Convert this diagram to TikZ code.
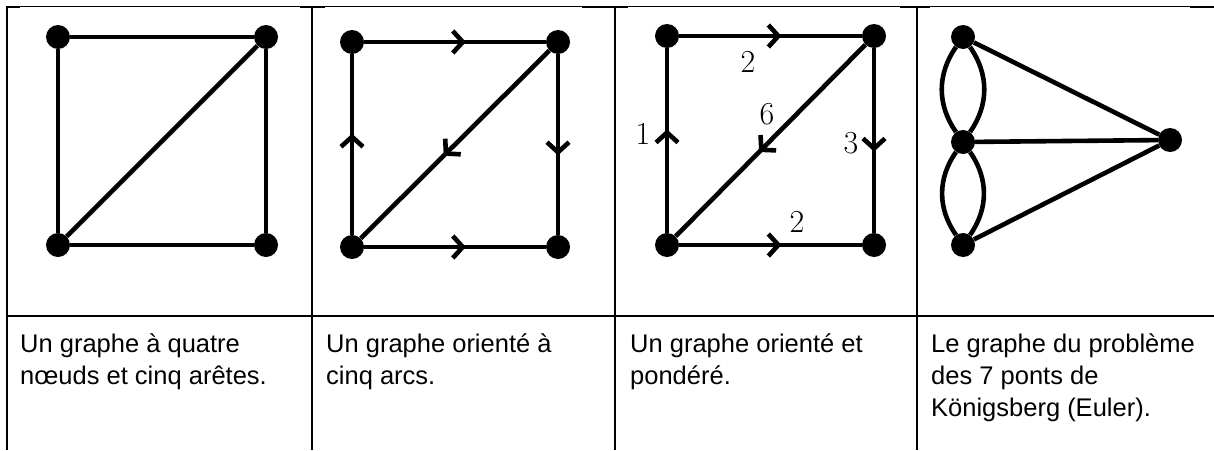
\documentclass[tikz,border=0pt]{standalone}
\usepackage{fontspec}
\newfontfamily\capfont{Liberation Sans}
\usetikzlibrary{arrows.meta,decorations.markings}
\begin{document}
\begin{tikzpicture}[x=1pt,y=-1pt,
  vtx/.style={circle,fill=black,inner sep=0pt,minimum size=24pt},
  gedge/.style={line width=4.6pt},
  darc/.style={gedge,postaction={decorate},decoration={markings,mark=at position 0.56 with {\arrow{Straight Barb[length=10pt,width=22pt]}}}},
  captxt/.style={anchor=base west,inner sep=0pt,font=\capfont\fontsize{25.5}{31}\selectfont},
  wt/.style={inner sep=0pt,font=\fontsize{32}{32}\selectfont},
  tabrule/.style={line width=2pt}]
\useasboundingbox (0,0) rectangle (1214,450);
% table
\draw[line width=1pt] (7,6.5) -- (1214,6.5);
\foreach \a/\b in {7/20,300/325,582/628,900/930,1190/1214}
  \draw[line width=2.2pt] (\a,7) -- (\b,7);
\foreach \x in {7,312,615,917}
  \draw[tabrule] (\x,6) -- (\x,450);
\draw[tabrule] (7,316) -- (1214,316);
% graph 1
\node[vtx] (a1) at (58,37) {};
\node[vtx] (b1) at (266,37) {};
\node[vtx] (c1) at (58,245) {};
\node[vtx] (d1) at (266,245) {};
\draw[gedge] (a1) -- (b1);
\draw[gedge] (a1) -- (c1);
\draw[gedge] (b1) -- (d1);
\draw[gedge] (c1) -- (d1);
\draw[gedge] (b1) -- (c1);
% graph 2
\node[vtx] (a2) at (352,42) {};
\node[vtx] (b2) at (558,42) {};
\node[vtx] (c2) at (352,247) {};
\node[vtx] (d2) at (558,247) {};
\draw[darc] (a2) -- (b2);
\draw[darc] (c2) -- (a2);
\draw[darc] (b2) -- (d2);
\draw[darc] (b2) -- (c2);
\draw[darc] (c2) -- (d2);
% graph 3
\node[vtx] (a3) at (667,36) {};
\node[vtx] (b3) at (874,36) {};
\node[vtx] (c3) at (667,245) {};
\node[vtx] (d3) at (874,245) {};
\draw[darc] (a3) -- (b3);
\draw[darc] (c3) -- (a3);
\draw[darc] (b3) -- (d3);
\draw[darc] (b3) -- (c3);
\draw[darc] (c3) -- (d3);
\node[wt] (w1) at (748,62) {2};
\node[wt] (w2) at (643,134) {1};
\node[wt] (w3) at (767,114) {6};
\node[wt] (w4) at (851,143) {3};
\node[wt] (w5) at (797,222) {2};
% graph 4
\node[vtx] (a4) at (963,37) {};
\node[vtx] (b4) at (963,142) {};
\node[vtx] (c4) at (963,245) {};
\node[vtx] (d4) at (1170,140) {};
\draw[gedge] (a4) -- (d4);
\draw[gedge] (b4) -- (d4);
\draw[gedge] (c4) -- (d4);
\draw[gedge] (a4) to[bend right=35] (b4);
\draw[gedge] (a4) to[bend left=35] (b4);
\draw[gedge] (b4) to[bend right=35] (c4);
\draw[gedge] (b4) to[bend left=35] (c4);
% captions
\node[captxt] (t1a) at (20,352) {Un graphe à quatre};
\node[captxt] (t1b) at (20,384) {nœuds et cinq arêtes.};
\node[captxt] (t2a) at (326,352) {Un graphe orienté à};
\node[captxt] (t2b) at (326,384) {cinq arcs.};
\node[captxt] (t3a) at (630,352) {Un graphe orienté et};
\node[captxt] (t3b) at (630,384) {pondéré.};
\node[captxt] (t4a) at (931,352) {Le graphe du problème};
\node[captxt] (t4b) at (931,384) {des 7 ponts de};
\node[captxt] (t4c) at (931,416) {Königsberg (Euler).};
\end{tikzpicture}
\end{document}
